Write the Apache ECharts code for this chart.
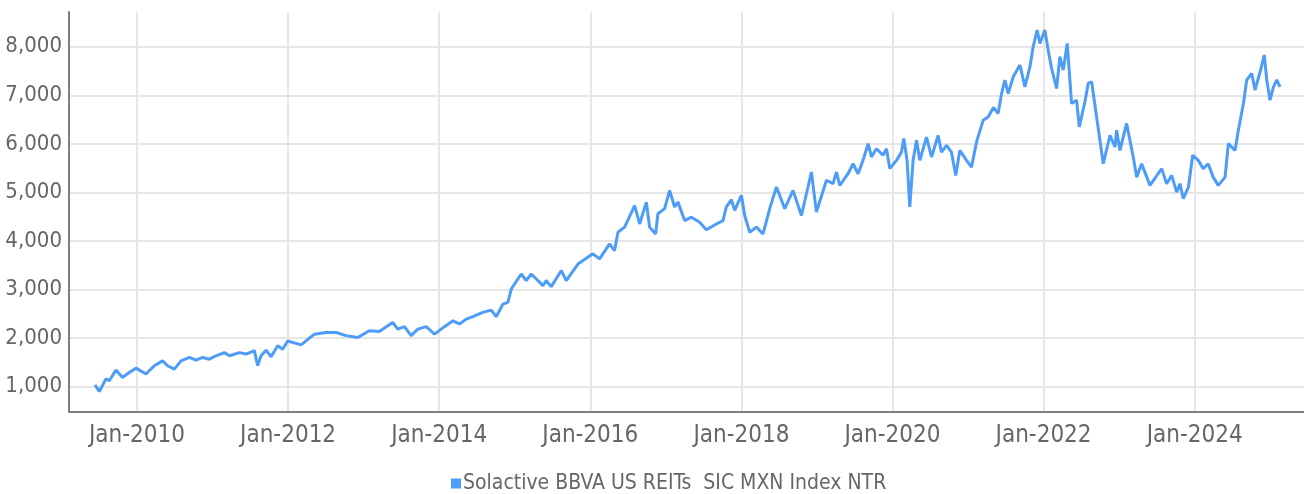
<!DOCTYPE html>
<html>
<head>
<meta charset="utf-8">
<script src="https://cdn.jsdelivr.net/npm/echarts@6/dist/echarts.min.js"></script>
<style>
  html, body { margin: 0; padding: 0; background: #fff; }
  #main { width: 1304px; height: 494px; }
</style>
</head>
<body>
<div id="main"></div>
<script>
// fecha en años decimales, valor del índice
const years = [
  2009.444, 2009.501, 2009.589, 2009.633, 2009.722, 2009.809, 2009.898, 2009.987,
  2010.119, 2010.229, 2010.339, 2010.405, 2010.494, 2010.583, 2010.693, 2010.781, 2010.869, 2010.958,
  2011.046, 2011.156, 2011.223, 2011.355, 2011.444, 2011.554, 2011.597, 2011.642, 2011.709, 2011.775, 2011.862, 2011.928, 2011.995,
  2012.172, 2012.348, 2012.503, 2012.636, 2012.768, 2012.922,
  2013.075, 2013.207, 2013.385, 2013.452, 2013.540, 2013.629, 2013.717, 2013.828, 2013.938,
  2014.070, 2014.180, 2014.269, 2014.358, 2014.445, 2014.577, 2014.689, 2014.755, 2014.843, 2014.909, 2014.954,
  2015.086, 2015.152, 2015.219, 2015.306, 2015.372, 2015.417, 2015.483, 2015.616, 2015.682, 2015.836,
  2016.034, 2016.123, 2016.255, 2016.321, 2016.366, 2016.454, 2016.587, 2016.653, 2016.742, 2016.785, 2016.865, 2016.895, 2016.984,
  2017.050, 2017.116, 2017.160, 2017.249, 2017.338, 2017.448, 2017.536, 2017.669, 2017.756, 2017.801, 2017.868, 2017.911,
  2018.000, 2018.044, 2018.110, 2018.199, 2018.286, 2018.375, 2018.464, 2018.574, 2018.684, 2018.795, 2018.927, 2018.993,
  2019.126, 2019.213, 2019.258, 2019.302, 2019.412, 2019.478, 2019.544, 2019.610, 2019.677, 2019.722, 2019.788, 2019.875, 2019.921, 2019.964,
  2020.053, 2020.119, 2020.150, 2020.193, 2020.229, 2020.273, 2020.318, 2020.362, 2020.450, 2020.517, 2020.604, 2020.649, 2020.715, 2020.781, 2020.838, 2020.891, 2020.980,
  2021.046, 2021.113, 2021.200, 2021.266, 2021.336, 2021.398, 2021.444, 2021.488, 2021.532, 2021.598, 2021.687, 2021.753, 2021.819, 2021.862, 2021.915, 2021.951,
  2022.017, 2022.061, 2022.106, 2022.172, 2022.216, 2022.260, 2022.313, 2022.371, 2022.437, 2022.472, 2022.547, 2022.591, 2022.636, 2022.702, 2022.790, 2022.879, 2022.945, 2022.967,
  2023.011, 2023.099, 2023.187, 2023.232, 2023.298, 2023.408, 2023.563, 2023.629, 2023.695, 2023.762, 2023.805, 2023.849, 2023.917, 2023.974,
  2024.048, 2024.113, 2024.179, 2024.245, 2024.313, 2024.402, 2024.446, 2024.534, 2024.578, 2024.645, 2024.689, 2024.755, 2024.799, 2024.866, 2024.921, 2024.954, 2024.997,
  2025.043, 2025.086, 2025.130
];
const values = [
  1035, 900, 1160, 1120, 1340, 1190, 1290, 1380,
  1260, 1430, 1530, 1430, 1360, 1530, 1600, 1545, 1600, 1565,
  1635, 1700, 1635, 1700, 1670, 1740, 1430, 1635, 1750, 1615, 1840, 1770, 1940,
  1860, 2080, 2115, 2115, 2050, 2010,
  2150, 2135, 2320, 2185, 2235, 2050, 2185, 2235, 2080,
  2235, 2355, 2290, 2390, 2440, 2530, 2575, 2440, 2700, 2735, 3010,
  3320, 3185, 3320, 3185, 3080, 3185, 3060, 3390, 3185, 3525,
  3735, 3630, 3940, 3800, 4180, 4285, 4730, 4350, 4800, 4285, 4145, 4560, 4665,
  5040, 4700, 4800, 4420, 4490, 4385, 4230, 4350, 4420, 4700, 4850, 4630,
  4940, 4525, 4180, 4285, 4145, 4665, 5110, 4665, 5040, 4525, 5420, 4595,
  5250, 5180, 5420, 5145, 5385, 5590, 5385, 5660, 6005, 5730, 5900, 5765, 5900, 5490,
  5660, 5830, 6110, 5660, 4700, 5660, 6075, 5660, 6140, 5730, 6175, 5830, 5970, 5830, 5350, 5865, 5660,
  5520, 6040, 6485, 6555, 6750, 6625, 7035, 7315, 7035, 7380, 7625, 7175, 7585, 8000, 8345, 8070,
  8345, 7930, 7555, 7140, 7795, 7520, 8070, 6830, 6900, 6350, 6865, 7245, 7280, 6555, 5590, 6175, 5935, 6280,
  5865, 6420, 5730, 5315, 5590, 5145, 5490, 5180, 5350, 5005, 5180, 4870, 5110, 5765,
  5660, 5490, 5590, 5315, 5145, 5315, 6005, 5865, 6280, 6830, 7315, 7450, 7105, 7485, 7830, 7315, 6900,
  7175, 7315, 7175
];
const yTicks = [1000, 2000, 3000, 4000, 5000, 6000, 7000, 8000];
const xTicks = [2010, 2012, 2014, 2016, 2018, 2020, 2022, 2024];
const seriesName = 'Solactive BBVA US REITs  SIC MXN Index NTR';

const font = "'Liberation Sans Narrow', 'DejaVu Sans Condensed', sans-serif";
const chart = echarts.init(document.getElementById('main'));
chart.setOption({
  animation: false,
  grid: { left: 69, right: 0, top: 12, bottom: 82, outerBoundsMode: 'none' },
  legend: {
    top: 468,
    left: 446,
    icon: 'rect',
    itemWidth: 10,
    itemHeight: 10,
    itemGap: 10,
    textStyle: { fontFamily: font, fontSize: 21, color: '#666', padding: [0, 0, 0, -3] },
    data: [seriesName]
  },
  xAxis: {
    type: 'value',
    min: 2009.1,
    max: 2025.447,
    axisLine: { show: true, lineStyle: { color: '#7f7f7f', width: 2 } },
    axisTick: { show: false, customValues: xTicks },
    axisLabel: {
      customValues: xTicks,
      formatter: v => 'Jan-' + v,
      fontFamily: font, fontSize: 24, color: '#666', margin: 12
    },
    splitLine: { show: true, lineStyle: { color: '#e6e6e6', width: 2 } }
  },
  yAxis: {
    type: 'value',
    min: 477,
    max: 8716,
    axisLine: { show: true, lineStyle: { color: '#7f7f7f', width: 2 } },
    axisTick: { show: false, customValues: yTicks },
    axisLabel: {
      customValues: yTicks,
      formatter: v => v.toLocaleString('en-US'),
      fontFamily: font, fontSize: 22, color: '#666', margin: 7
    },
    splitLine: { show: true, lineStyle: { color: '#e6e6e6', width: 2 } }
  },
  series: [{
    name: seriesName,
    type: 'line',
    showSymbol: false,
    data: years.map((y, i) => [y, values[i]]),
    lineStyle: { color: '#4d9cf8', width: 3 },
    itemStyle: { color: '#4d9cf8' }
  }]
});
</script>
</body>
</html>
